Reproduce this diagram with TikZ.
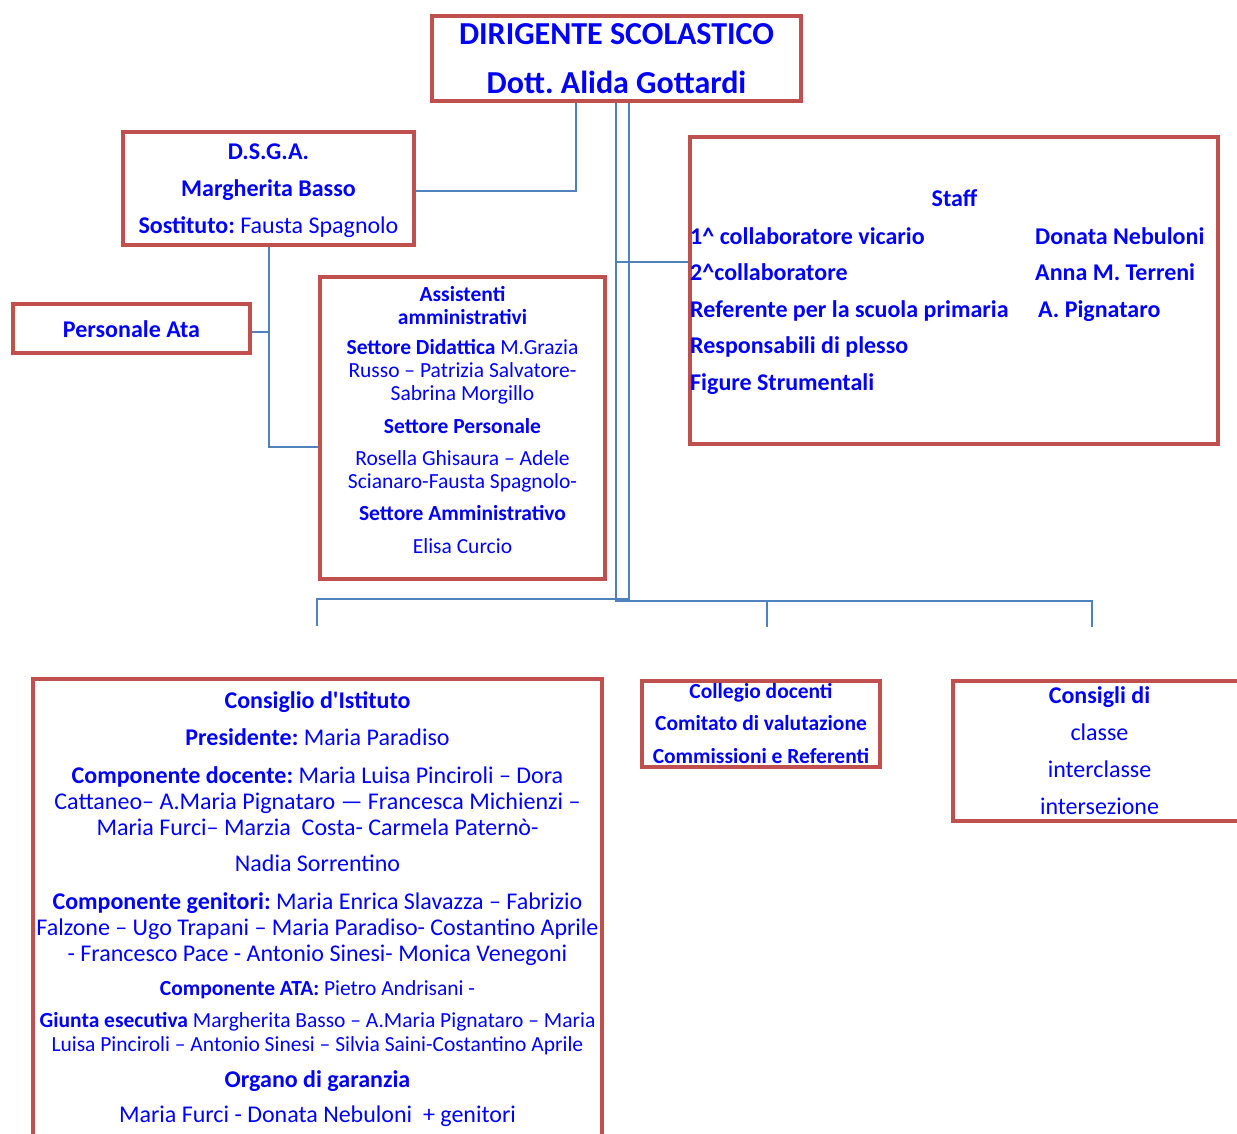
\documentclass[tikz,border=0pt]{standalone}
\usepackage{fontspec}
\setmainfont{Carlito}
\usepackage{tikz}
\usetikzlibrary{backgrounds}

\definecolor{boxred}{RGB}{192,80,77}
\definecolor{linkblue}{RGB}{79,129,189}
\definecolor{textblue}{RGB}{0,0,255}
\newcommand{\setfs}[2]{\fontsize{#1}{#2}\selectfont}
\frenchspacing

\tikzset{
  box/.style={draw=boxred, line width=4pt, inner sep=0pt, rectangle},
  link/.style={draw=linkblue, line width=2pt},
  txt/.style={text=textblue, inner sep=0pt, anchor=base, align=center},
}

\begin{document}
\begin{tikzpicture}[x=1pt, y=-1pt]
  \useasboundingbox (0,0) rectangle (1237,1133);
  \clip (0,0) rectangle (1237,1133);

  % Dirigente
  \node[box, minimum width=369pt, minimum height=85pt] (dir) at (616.5,58.5) {};
  \node[txt, font=\bfseries\setfs{32}{49}] (dirtxt) at (616.5,93)
    {DIRIGENTE SCOLASTICO\\Dott. Alida Gottardi};

  % DSGA
  \node[box, minimum width=291pt, minimum height=113pt] (dsga) at (268.5,188.5) {};
  \node[txt, font=\setfs{24}{37}] (dsgatxt) at (268.5,233)
    {\textbf{D.S.G.A.}\\\textbf{Margherita Basso}\\\textbf{Sostituto:} Fausta Spagnolo};

  % Personale Ata
  \node[box, minimum width=237pt, minimum height=49pt] (ata) at (131.5,328.5) {};
  \node[txt, font=\bfseries\setfs{24}{29}] (atatxt) at (131.5,337) {Personale Ata};

  % Assistenti amministrativi
  \node[box, minimum width=285pt, minimum height=302pt] (ass) at (462.5,428) {};
  \node[txt, font=\setfs{21.5}{23}] (asstxt) at (462.5,553)
    {\textbf{Assistenti}\\\textbf{amministrativi}\\[7pt]
     \textbf{Settore Didattica} M.Grazia\\Russo – Patrizia Salvatore-\\Sabrina Morgillo\\[10pt]
     \textbf{Settore Personale}\\[9pt]
     Rosella Ghisaura – Adele\\Scianaro-Fausta Spagnolo-\\[9pt]
     \textbf{Settore Amministrativo}\\[10pt]
     Elisa Curcio};

  % Staff
  \node[box, minimum width=528pt, minimum height=307pt] (staff) at (954,290.5) {};
  \node[txt, font=\bfseries\setfs{24}{29}] (stafftit) at (954.5,206) {Staff};
  \node[txt, anchor=base west, align=left, font=\bfseries\setfs{24}{36.5}] (staffrole) at (690,390)
    {1\textasciicircum{} collaboratore vicario\\2\textasciicircum{}collaboratore\\
     Referente per la scuola primaria\\Responsabili di plesso\\Figure Strumentali};
  \node[txt, anchor=base west, align=left, font=\bfseries\setfs{24}{36.5}] (staffname) at (1035,317)
    {Donata Nebuloni\\Anna M. Terreni\\\hspace{3pt}A. Pignataro};

  % Consiglio d'Istituto
  \node[box, minimum width=569pt, minimum height=481pt] (ci) at (317.5,919.5) {};
  \node[txt, font=\setfs{24}{26}] (citxt) at (317.5,1122)
    {\textbf{Consiglio d\textquotesingle Istituto}\\[11pt]
     \textbf{Presidente:} Maria Paradiso\\[12pt]
     \textbf{Componente docente:} Maria Luisa Pinciroli – Dora\\
     Cattaneo– A.Maria Pignataro — Francesca Michienzi –\\
     Maria Furci– Marzia\ \ Costa- Carmela Paternò-\\[10pt]
     Nadia Sorrentino\\[12pt]
     \textbf{Componente genitori:} Maria Enrica Slavazza – Fabrizio\\
     Falzone – Ugo Trapani – Maria Paradiso- Costantino Aprile\\
     - Francesco Pace - Antonio Sinesi- Monica Venegoni\\[8pt]
     {\setfs{21.5}{23}\textbf{Componente ATA:} Pietro Andrisani -}\\[6pt]
     {\setfs{21.5}{23}\textbf{Giunta esecutiva} Margherita Basso – A.Maria Pignataro – Maria}\\[-2pt]
     {\setfs{21.5}{23}Luisa Pinciroli – Antonio Sinesi – Silvia Saini-Costantino Aprile}\\[10pt]
     \textbf{Organo di garanzia}\\[9pt]
     Maria Furci - Donata Nebuloni\ \ + genitori};

  % Collegio docenti
  \node[box, minimum width=238pt, minimum height=86pt] (cd) at (761,724) {};
  \node[txt, font=\bfseries\setfs{21.5}{32.5}] (cdtxt) at (761,763)
    {Collegio docenti\\Comitato di valutazione\\Commissioni e Referenti};

  % Consigli di classe
  \node[box, minimum width=307pt, minimum height=140pt] (cc) at (1106.5,751) {};
  \node[txt, font=\setfs{24}{36.7}] (cctxt) at (1099.5,814)
    {\textbf{Consigli di}\\classe\\interclasse\\intersezione};

  % collegamenti
  \coordinate (jd) at (576,191);
  \coordinate (ja) at (616,601);
  \coordinate (jb) at (629,599);
  \coordinate (js) at (616,262);
  \coordinate (jt) at (269,447);
  \coordinate (jp) at (269,332);
  \coordinate (citop) at (317,626);
  \coordinate (cdtop) at (767,627);
  \coordinate (cctop) at (1092,627);
  \begin{scope}[on background layer]
    \draw[link] (dir.south -| jd) -- (jd) -- (dsga.east |- jd);
    \draw[link] (dir.south -| ja) -- (ja) -- (ja -| cctop) -- (cctop);
    \draw[link] (ja -| cdtop) -- (cdtop);
    \draw[link] (dir.south -| jb) -- (jb) -- (jb -| citop) -- (citop);
    \draw[link] (js) -- (staff.west |- js);
    \draw[link] (dsga.south -| jt) -- (jt) -- (ass.west |- jt);
    \draw[link] (jp) -- (ata.east |- jp);
  \end{scope}
\end{tikzpicture}
\end{document}
